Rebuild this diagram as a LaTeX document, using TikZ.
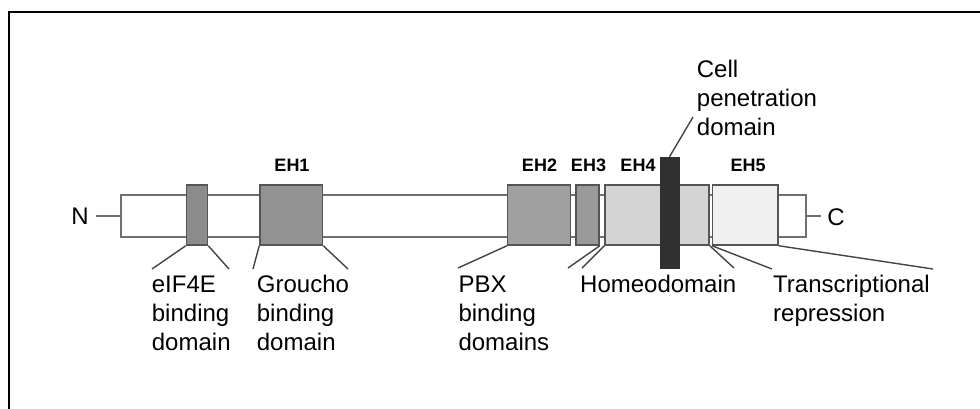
\documentclass[tikz,border=0pt]{standalone}
\usepackage{fontspec}
\setmainfont{Liberation Sans}
\definecolor{cEIF}{HTML}{8C8C8C}
\definecolor{cEHone}{HTML}{939393}
\definecolor{cEHtwo}{HTML}{A0A0A0}
\definecolor{cEHthree}{HTML}{9A9A9A}
\definecolor{cEHfour}{HTML}{D4D4D4}
\definecolor{cEHfive}{HTML}{F0F0F0}
\definecolor{cCPD}{HTML}{303030}
\definecolor{cEdge}{HTML}{555555}
\definecolor{cBar}{HTML}{707070}
\definecolor{cLine}{HTML}{444444}
\begin{document}
\begin{tikzpicture}[x=1pt,y=-1pt,
  dom/.style={draw=cEdge,line width=1.5pt,rectangle,inner sep=0pt,minimum height=60pt},
  lbl/.style={font=\fontsize{24}{29}\selectfont,align=left,inner sep=0pt,anchor=base west},
  ehlbl/.style={font=\fontsize{18}{22}\selectfont\bfseries,inner sep=0pt,anchor=base},
  conn/.style={draw=cLine,line width=1.4pt}]
\useasboundingbox (0,0) rectangle (980,408);
\draw[line width=2.3pt] (9,410) -- (9,12) -- (982,12);
% backbone
\node[draw=cBar,line width=1.5pt,fill=white,rectangle,inner sep=0pt,minimum width=685pt,minimum height=42pt] (bar) at (463.5,216) {};
% domains
\node[dom,fill=cEIF,minimum width=21pt] (eif) at (197,215) {};
\node[dom,fill=cEHone,minimum width=62.5pt] (eh1) at (291.25,215) {};
\node[dom,fill=cEHtwo,minimum width=63pt] (eh2) at (539.2,215) {};
\node[dom,fill=cEHthree,minimum width=23pt] (eh3) at (587.5,215) {};
\node[dom,fill=cEHfour,minimum width=104pt] (eh4) at (657,215) {};
\node[dom,fill=cEHfive,minimum width=65.3pt] (eh5) at (745.3,215) {};
\node[draw=cCPD,fill=cCPD,rectangle,inner sep=0pt,minimum width=19pt,minimum height=111pt] (cpd) at (669.5,212.5) {};
% termini
\node[font=\fontsize{24}{29}\selectfont,inner sep=0pt] (N) at (80,216) {N};
\node[font=\fontsize{24}{29}\selectfont,inner sep=0pt] (C) at (836,217) {C};
\coordinate (nend) at (95.7,216);
\coordinate (cend) at (821,216);
\draw[draw=cBar,line width=1.5pt] (nend) -- (bar.west);
\draw[draw=cBar,line width=1.5pt] (bar.east) -- (cend);
% EH labels
\node[ehlbl] (l1) at (292,171.7) {EH1};
\node[ehlbl] (l2) at (539.5,171.7) {EH2};
\node[ehlbl] (l3) at (588.5,171.7) {EH3};
\node[ehlbl] (l4) at (638,171.7) {EH4};
\node[ehlbl] (l5) at (748,171.7) {EH5};
% text labels (anchor = baseline of last line)
\node[lbl] (teif) at (151.7,350) {eIF4E\\binding\\domain};
\node[lbl] (tgro) at (256.7,350) {Groucho\\binding\\domain};
\node[lbl] (tpbx) at (458.3,350) {PBX\\binding\\domains};
\node[lbl] (thom) at (580,292) {Homeodomain};
\node[lbl] (ttr) at (773,321.5) {Transcriptional\\repression};
\node[lbl] (tcpd) at (696.7,135.5) {Cell\\penetration\\domain};
% connector ends
\coordinate (a1) at (152,269);
\coordinate (a2) at (229,269);
\coordinate (b1) at (253,269);
\coordinate (b2) at (348,269);
\coordinate (c1) at (458,268);
\coordinate (d1) at (568,268);
\coordinate (e1) at (582,268);
\coordinate (e2) at (734,268);
\coordinate (f1) at (772,269);
\coordinate (f2) at (933,269);
\coordinate (g1) at (693,117);
% connectors
\draw[conn] (eif.south west) -- (a1);
\draw[conn] (eif.south east) -- (a2);
\draw[conn] (eh1.south west) -- (b1);
\draw[conn] (eh1.south east) -- (b2);
\draw[conn] (eh2.south west) -- (c1);
\draw[conn] (eh3.south east) -- (d1);
\draw[conn] (eh4.south west) -- (e1);
\draw[conn] (eh4.south east) -- (e2);
\draw[conn] (eh5.south west) -- (f1);
\draw[conn] (eh5.south east) -- (f2);
\draw[conn] (cpd.north) -- (g1);
\end{tikzpicture}
\end{document}
